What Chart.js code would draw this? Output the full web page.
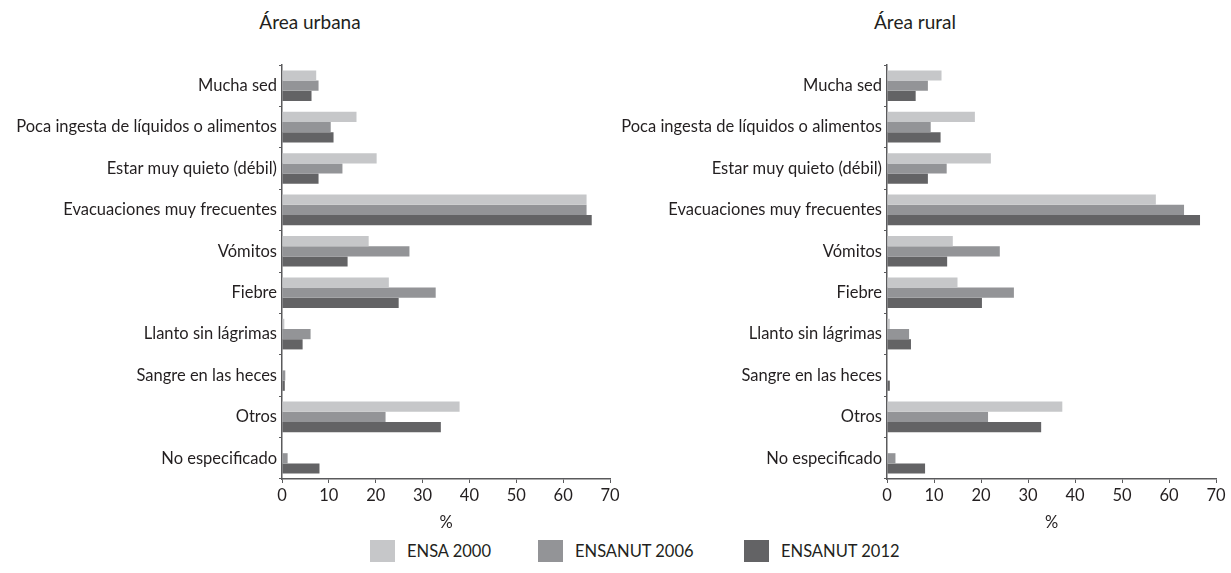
<!DOCTYPE html>
<html>
<head>
<meta charset="utf-8">
<title>Área urbana / Área rural</title>
<script src="https://cdn.jsdelivr.net/npm/chart.js@4.4.1/dist/chart.umd.min.js"></script>
<style>
  body { margin: 0; background: #fff; font-family: Lato, "Open Sans", sans-serif; color: #231f20; }
  #wrap { position: relative; width: 1231px; height: 573px; overflow: hidden; }
  canvas { position: absolute; top: 0; }
  .title { position: absolute; top: 10px; font-size: 19px; width: 240px; text-align: center; }
  .legend { position: absolute; top: 539px; height: 24px; font-size: 16.5px; display: flex; align-items: center; }
  .legend span.box { display: inline-block; width: 25px; height: 22px; margin-right: 12px; }
</style>
</head>
<body>
<div id="wrap">
  <div class="title" style="left:190px">Área urbana</div>
  <div class="title" style="left:795px">Área rural</div>
  <canvas id="urbana" width="625" height="533" style="left:0"></canvas>
  <canvas id="rural" width="626" height="533" style="left:605px"></canvas>
  <div id="legend"></div>
</div>
<script>
const categories = [
  "Mucha sed",
  "Poca ingesta de líquidos o alimentos",
  "Estar muy quieto (débil)",
  "Evacuaciones muy frecuentes",
  "Vómitos",
  "Fiebre",
  "Llanto sin lágrimas",
  "Sangre en las heces",
  "Otros",
  "No especificado"
];
const seriesNames = ["ENSA 2000", "ENSANUT 2006", "ENSANUT 2012"];
const seriesColors = ["#c6c7c9", "#939497", "#636365"];
const xTicks = [0, 10, 20, 30, 40, 50, 60, 70];

const urbanEnsa2000 = [7.3, 15.9, 20.2, 65.0, 18.5, 22.8, 0.5, 0, 37.9, 0];
const urbanEnsanut2006 = [7.8, 10.4, 12.9, 65.0, 27.2, 32.8, 6.1, 0.7, 22.1, 1.2];
const urbanEnsanut2012 = [6.3, 11.0, 7.8, 66.1, 14.0, 24.9, 4.4, 0.6, 33.9, 8.0];

const ruralEnsa2000 = [11.6, 18.7, 22.1, 57.2, 14.0, 15.0, 0.6, 0, 37.3, 0];
const ruralEnsanut2006 = [8.7, 9.3, 12.7, 63.2, 24.0, 27.0, 4.7, 0, 21.5, 1.8];
const ruralEnsanut2012 = [6.1, 11.4, 8.7, 66.6, 12.8, 20.2, 5.1, 0.6, 32.8, 8.1];

const textColor = "#231f20";
const axisColor = "#5a5a5c";
const font = { family: "Lato, 'Open Sans', sans-serif", size: 16.5 };

function makeChart(id, series) {
  const ctx = document.getElementById(id).getContext("2d");
  return new Chart(ctx, {
    type: "bar",
    data: {
      labels: categories,
      datasets: series.map((values, i) => ({
        label: seriesNames[i],
        data: values,
        backgroundColor: seriesColors[i],
        borderWidth: 0,
        categoryPercentage: 0.74,
        barPercentage: 1.0,
      })),
    },
    options: {
      indexAxis: "y",
      responsive: false,
      animation: false,
      layout: { padding: { top: 65, right: 15, left: 0, bottom: 0 } },
      plugins: { legend: { display: false }, tooltip: { enabled: false } },
      scales: {
        x: {
          min: 0,
          max: 70,
          afterBuildTicks: (s) => { s.ticks = xTicks.map(v => ({ value: v })); },
          ticks: { color: textColor, font, padding: 3, maxRotation: 0 },
          grid: { drawOnChartArea: false, tickLength: 4, color: axisColor, lineWidth: 1 },
          border: { color: axisColor, width: 1.5 },
          title: { display: true, text: "%", color: textColor, font, padding: { top: 3, bottom: 0 } },
          afterFit: (s) => { s.height = 54; },
        },
        y: {
          grid: { offset: true, drawOnChartArea: false, tickLength: 3, color: axisColor, lineWidth: 1 },
          border: { color: axisColor, width: 1.5 },
          ticks: { color: textColor, font, padding: 2, autoSkip: false },
          afterFit: (s) => { s.width = 282; },
        },
      },
    },
  });
}

makeChart("urbana", [urbanEnsa2000, urbanEnsanut2006, urbanEnsanut2012]);
makeChart("rural", [ruralEnsa2000, ruralEnsanut2006, ruralEnsanut2012]);

// legend below both panels
const legendPos = [370, 538, 744];
const legend = document.getElementById("legend");
seriesNames.forEach((name, i) => {
  const item = document.createElement("div");
  item.className = "legend";
  item.style.left = legendPos[i] + "px";
  item.innerHTML = `<span class="box" style="background:${seriesColors[i]}"></span>${name}`;
  legend.appendChild(item);
});
</script>
</body>
</html>
